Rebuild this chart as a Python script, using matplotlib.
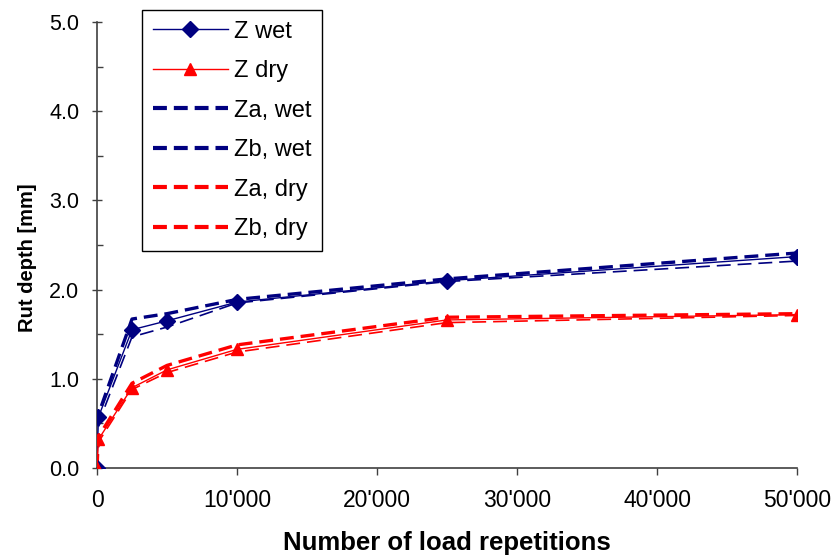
import matplotlib
matplotlib.use("Agg")
import matplotlib.pyplot as plt
from matplotlib.ticker import FuncFormatter, MultipleLocator

plt.rcParams['font.family'] = ['Liberation Sans', 'DejaVu Sans']
plt.rcParams['lines.scale_dashes'] = False

# load repetitions
reps = [0, 100, 2500, 5000, 10000, 25000, 50000]

# rut depth [mm]
z_wet = [0.0, 0.57, 1.55, 1.65, 1.86, 2.10, 2.37]
z_dry = [0.0, 0.32, 0.90, 1.10, 1.33, 1.66, 1.72]
za_wet = [0.0, 0.60, 1.67, 1.73, 1.89, 2.12, 2.41]
zb_wet = [0.0, 0.50, 1.47, 1.58, 1.85, 2.09, 2.32]
za_dry = [0.0, 0.35, 0.95, 1.15, 1.38, 1.69, 1.73]
zb_dry = [0.0, 0.29, 0.88, 1.07, 1.30, 1.63, 1.71]

navy = '#000080'
red = '#ff0000'
dash = (10, 5)

fig = plt.figure(figsize=(8.33, 5.6), dpi=100)
ax = fig.add_axes([97/833, 1 - 468/560, 700/833, 446/560])

ax.plot(reps, z_wet, color=navy, lw=1.0, marker='D', ms=8, label='Z wet', zorder=5)
ax.plot(reps, z_dry, color=red, lw=1.0, marker='^', ms=8.5, label='Z dry', zorder=5)
ax.plot(reps, za_wet, color=navy, lw=2.4, dashes=dash, label='Za, wet')
ax.plot(reps, zb_wet, color=navy, lw=1.2, dashes=dash, label='Zb, wet')
ax.plot(reps, za_dry, color=red, lw=2.4, dashes=dash, label='Za, dry')
ax.plot(reps, zb_dry, color=red, lw=1.2, dashes=dash, label='Zb, dry')

ax.set_xlim(0, 50000)
ax.set_ylim(0, 5)
ax.xaxis.set_major_locator(MultipleLocator(10000))
ax.xaxis.set_major_formatter(FuncFormatter(lambda v, p: f"{int(v):,}".replace(",", "'")))
ax.yaxis.set_major_locator(MultipleLocator(1.0))
ax.yaxis.set_minor_locator(MultipleLocator(0.5))
ax.yaxis.set_major_formatter(FuncFormatter(lambda v, p: f"{v:.1f}"))

for s in ['top', 'right']:
    ax.spines[s].set_visible(False)
for s in ['left', 'bottom']:
    ax.spines[s].set_color('#404040')
    ax.spines[s].set_linewidth(1.2)
ax.tick_params(axis='y', which='major', direction='inout', length=7.2, width=1, colors='#404040',
               labelcolor='black', labelsize=15.5, pad=9)
ax.tick_params(axis='y', which='minor', direction='in', length=4, width=1, colors='#404040')
ax.tick_params(axis='x', which='major', direction='out', length=5, width=1, colors='#404040',
               labelcolor='black', labelsize=16.5, pad=10)

ax.set_xlabel('Number of load repetitions', fontsize=18.5, fontweight='bold', labelpad=14)
ax.set_ylabel('Rut depth [mm]', fontsize=14.5, fontweight='bold')
ax.yaxis.set_label_coords(-0.085, 0.472)

leg = ax.legend(loc='upper left', bbox_to_anchor=(142/833, 1 - 10/560), bbox_transform=fig.transFigure,
                fontsize=17, handlelength=3.2, labelspacing=0.74, fancybox=False, framealpha=1,
                edgecolor='black', borderpad=0.45, handletextpad=0.25, borderaxespad=0)
leg.get_frame().set_linewidth(1.0)
for line in leg.get_lines()[2:]:
    line.set_linewidth(3.0)

fig.savefig('out.png', dpi=100)
